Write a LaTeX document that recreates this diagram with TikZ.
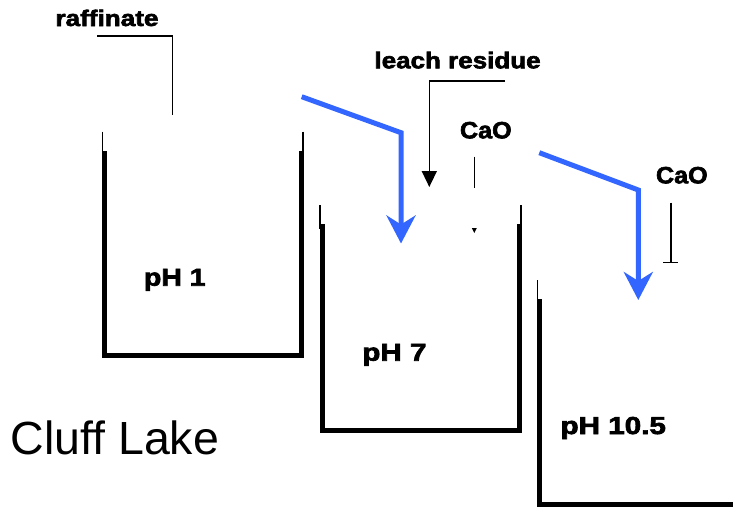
\documentclass[tikz,border=0pt]{standalone}
\usepackage{fontspec}
\setmainfont{Liberation Sans}
\newfontfamily\lblfont{Liberation Sans}[FakeBold=2.5]
\usetikzlibrary{arrows.meta}
\definecolor{flowblue}{RGB}{51,102,255}
\newcommand{\lbl}[3]{\scalebox{#2}[1]{\lblfont\fontsize{#1}{#1}\selectfont\bfseries #3}}
\begin{document}
\begin{tikzpicture}[x=1pt,y=-1pt,
  wall/.style={line width=5pt,line join=miter,line cap=rect},
  rim/.style={line width=1.5pt},
  feed/.style={line width=1.5pt},
  flow/.style={flowblue,line width=5pt,line join=miter,-{Stealth[width=29pt,length=28pt,inset=9pt]}},
  txt/.style={anchor=base west,inner sep=0pt,outer sep=0pt}]
\useasboundingbox (0,0) rectangle (733,507);
% tanks
\draw[wall] (104.2,153) -- (104.2,355) -- (301.2,355) -- (301.2,153);
\draw[rim] (102.6,131.5) -- (102.6,156);
\draw[rim] (303,131.5) -- (303,156);
\draw[wall] (322.2,226.7) -- (322.2,430) -- (519.2,430) -- (519.2,226.7);
\draw[rim] (320,205) -- (320,229);
\draw[rim] (521.2,205) -- (521.2,229);
\draw[wall] (539.8,301.7) -- (539.8,504.2) -- (733,504.2);
\draw[rim] (537.6,280) -- (537.6,304);
% labels
\node[txt] (raff) at (55.5,26) {\lbl{22.5}{1.16}{raffinate}};
\node[txt] (leach) at (374.5,68.3) {\lbl{22.8}{1.14}{leach residue}};
\node[txt] (cao1) at (460,138.3) {\lbl{23.5}{1.07}{CaO}};
\node[txt] (cao2) at (656,183.3) {\lbl{23.5}{1.07}{CaO}};
\node[txt] (ph1) at (144,285.7) {\lbl{24.5}{1.16}{pH 1}};
\node[txt] (ph7) at (362.3,360.7) {\lbl{24.5}{1.21}{pH 7}};
\node[txt] (ph105) at (560.5,434) {\lbl{24.5}{1.21}{pH 10.5}};
\node[txt] (cluff) at (10.5,454) {\fontsize{46.5}{50}\selectfont Cluff Lake};
% raffinate feed
\coordinate (r0) at (97.3,36);
\coordinate (r1) at (172.7,36);
\coordinate (r2) at (172.7,115);
\draw[line width=2pt] (r0) -- (r1);
\draw[feed] (r1) -- (r2);
% leach residue feed
\coordinate (l0) at (505,81);
\coordinate (l1) at (429.3,81);
\coordinate (l2) at (429.3,187);
\draw[feed,-{Triangle[width=15pt,length=16pt]}] (l0) -- (l1) -- (l2);
% CaO feeds
\coordinate (c1a) at (474.3,156.7);
\coordinate (c1b) at (474.3,188);
\draw[feed] (c1a) -- (c1b);
\fill (471.8,228) -- (476.8,228) -- (474.3,233) -- cycle;
\coordinate (c2a) at (671,202.7);
\coordinate (c2b) at (671,262.7);
\draw[feed] (c2a) -- (c2b);
\draw[feed] (663.3,262.7) -- (678.3,262.7);
% blue flows
\coordinate (b1a) at (301.7,96.7);
\coordinate (b1b) at (401,132.7);
\coordinate (b1c) at (401,243.5);
\draw[flow] (b1a) -- (b1b) -- (b1c);
\coordinate (b2a) at (539.3,152.7);
\coordinate (b2b) at (638.3,190);
\coordinate (b2c) at (638.3,300);
\draw[flow] (b2a) -- (b2b) -- (b2c);
\end{tikzpicture}
\end{document}
